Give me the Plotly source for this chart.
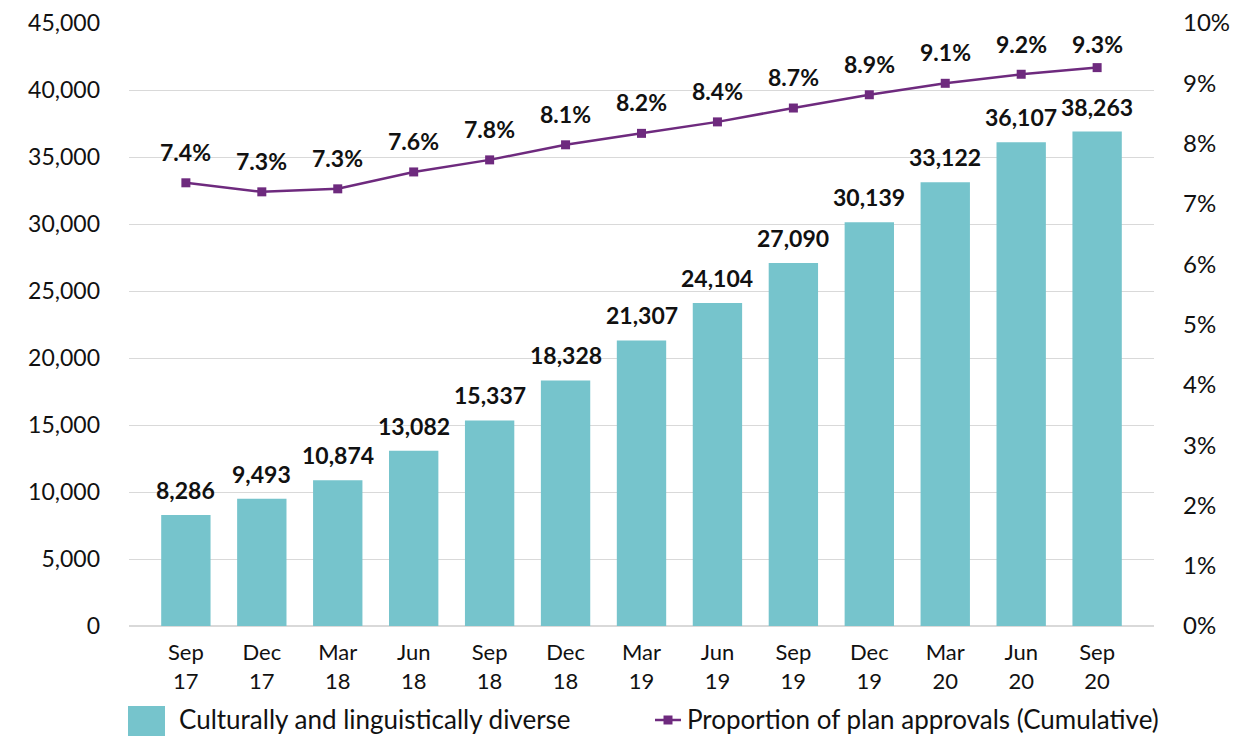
import plotly.graph_objects as go

# ---- data ----
quarters = ["Sep<br>17", "Dec<br>17", "Mar<br>18", "Jun<br>18", "Sep<br>18", "Dec<br>18",
            "Mar<br>19", "Jun<br>19", "Sep<br>19", "Dec<br>19", "Mar<br>20", "Jun<br>20", "Sep<br>20"]
cald_labels = [8286, 9493, 10874, 13082, 15337, 18328, 21307, 24104, 27090, 30139, 33122, 36107, 38263]
cald_heights = [8286, 9493, 10874, 13082, 15337, 18328, 21307, 24104, 27090, 30139, 33122, 36107, 36900]
proportion = [7.35, 7.20, 7.25, 7.53, 7.73, 7.98, 8.17, 8.36, 8.59, 8.81, 9.00, 9.15, 9.26]
proportion_labels = ["7.4%", "7.3%", "7.3%", "7.6%", "7.8%", "8.1%", "8.2%", "8.4%",
                     "8.7%", "8.9%", "9.1%", "9.2%", "9.3%"]
left_ticks = [0, 5000, 10000, 15000, 20000, 25000, 30000, 35000, 40000, 45000]
right_ticks = [0, 1, 2, 3, 4, 5, 6, 7, 8, 9, 10]

bar_name = "Culturally and linguistically diverse"
line_name = "Proportion of plan approvals (Cumulative)"

BAR_COLOR = "#76C4CC"
LINE_COLOR = "#6E2A7E"
FONT = "Lato, Open Sans, sans-serif"
TXT = "#111111"

Y2_MAX = 10
PLOT_H = 603  # plot-area height in px (matches margins below)

fig = go.Figure()
fig.add_trace(go.Bar(x=quarters, y=cald_heights, name=bar_name,
                     marker=dict(color=BAR_COLOR, line=dict(width=0)),
                     showlegend=False, yaxis="y"))
fig.add_trace(go.Scatter(x=quarters, y=proportion, name=line_name, mode="lines+markers",
                         line=dict(color=LINE_COLOR, width=2.5),
                         marker=dict(symbol="square", size=9, color=LINE_COLOR),
                         showlegend=False, yaxis="y2"))

annotations = []
for q, h, lab in zip(quarters, cald_heights, cald_labels):
    annotations.append(dict(x=q, y=h, xref="x", yref="y", text=f"<b>{lab:,}</b>",
                            showarrow=False, yanchor="bottom", yshift=9,
                            font=dict(size=23, color=TXT, family=FONT)))
for q, v, lab in zip(quarters, proportion, proportion_labels):
    # labels sit above markers, but are kept inside the chart area near the top
    from_top = (Y2_MAX - v) / Y2_MAX * PLOT_H
    shift = min(31, from_top - 21)
    annotations.append(dict(x=q, y=v, xref="x", yref="y2", text=f"<b>{lab}</b>",
                            showarrow=False, yanchor="middle", yshift=shift,
                            font=dict(size=23, color=TXT, family=FONT)))

# custom legend (paper coordinates derived from plot-area pixel frame)
W, H = 1025.0, 603.0
def px(xp):
    return (xp - 129) / W
def py(yp):
    return (626 - yp) / H

shapes = [
    dict(type="rect", xref="paper", yref="paper", x0=px(128), x1=px(165), y0=py(737), y1=py(706),
         fillcolor=BAR_COLOR, line=dict(width=0)),
    dict(type="line", xref="paper", yref="paper", x0=px(655), x1=px(681), y0=py(720), y1=py(720),
         line=dict(color=LINE_COLOR, width=2.5)),
    dict(type="rect", xref="paper", yref="paper", x0=px(663.5), x1=px(672.5), y0=py(724.5), y1=py(715.5),
         fillcolor=LINE_COLOR, line=dict(width=0)),
]
annotations.append(dict(x=px(177), y=py(719), xref="paper", yref="paper", text=bar_name,
                        showarrow=False, xanchor="left", yanchor="middle",
                        font=dict(size=26, color=TXT, family=FONT)))
annotations.append(dict(x=px(685), y=py(719), xref="paper", yref="paper", text=line_name,
                        showarrow=False, xanchor="left", yanchor="middle",
                        font=dict(size=26, color=TXT, family=FONT)))

fig.update_layout(
    width=1237, height=728, autosize=False,
    margin=dict(l=121, r=91, t=15, b=110, autoexpand=False),
    paper_bgcolor="white", plot_bgcolor="white",
    font=dict(family=FONT, color=TXT),
    bargap=0.35,
    xaxis=dict(type="category", showgrid=False, showline=False, ticks="", automargin=False,
               tickfont=dict(size=22, family=FONT), ticklabelstandoff=11),
    yaxis=dict(range=[0, 45000], tickvals=left_ticks, ticktext=[f"{t:,}" for t in left_ticks],
               showgrid=True, gridcolor="#D9D9D9", gridwidth=1, zeroline=True,
               zerolinecolor="#D9D9D9", zerolinewidth=1.5, showline=False, automargin=False,
               ticklabeloverflow="allow",
               tickfont=dict(size=23, family=FONT), ticklabelstandoff=28),
    yaxis2=dict(range=[0, Y2_MAX], tickvals=right_ticks, ticktext=[f"{t}%" for t in right_ticks],
                overlaying="y", side="right", showgrid=False, zeroline=False, showline=False,
                automargin=False, ticklabeloverflow="allow",
                tickfont=dict(size=24, family=FONT), ticklabelstandoff=28),
    annotations=annotations,
    shapes=shapes,
)

fig.write_html("out.html")
